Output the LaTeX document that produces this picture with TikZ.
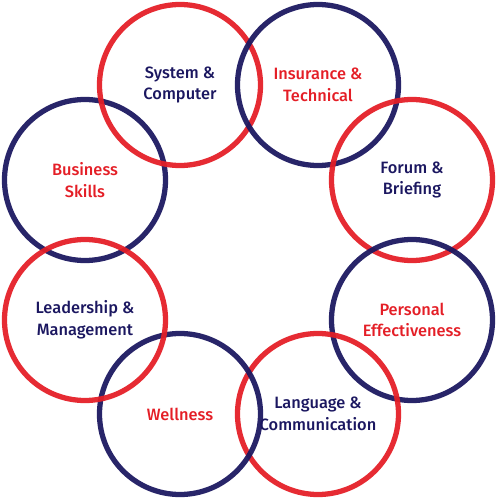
\documentclass[tikz,border=0pt]{standalone}
\usepackage{fontspec}
\setmainfont{Fira Sans}[UprightFont={* Medium}]
\usepackage{tikz}
\usetikzlibrary{positioning}
\usepackage{xcolor}
\definecolor{ringred}{HTML}{E41E26}
\definecolor{ringnavy}{HTML}{1B1760}

\begin{document}
\begin{tikzpicture}[
  ring/.style={draw, circle, line width=4.5pt, minimum size=4.83cm, inner sep=0pt,
               align=center, font=\fontsize{14}{18.5}\selectfont, draw opacity=0.94},
  redring/.style={ring, draw=ringred, text=ringnavy},
  navyring/.style={ring, draw=ringnavy, text=ringred}
]
  \useasboundingbox (0,0) rectangle (15,14.97);

  % top and left half
  \node[navyring] (business) at (2.55, 9.57) {Business\\Skills};
  \node[redring] (system) at (5.40, 12.42) {System \&\\Computer};
  \node[navyring] (insurance) at (9.54, 12.42) {Insurance \&\\Technical};
  \node[redring] (forum) at (12.36, 9.57) {Forum \&\\Briefing};

  % bottom and right half
  \node[navyring] (personal) at (12.36, 5.37) {Personal\\Effectiveness};
  \node[redring] (language) at (9.54, 2.55) {Language \&\\Communication};
  \node[navyring] (wellness) at (5.40, 2.55) {Wellness};
  \node[redring] (leadership) at (2.55, 5.37) {Leadership \&\\Management};
\end{tikzpicture}
\end{document}
